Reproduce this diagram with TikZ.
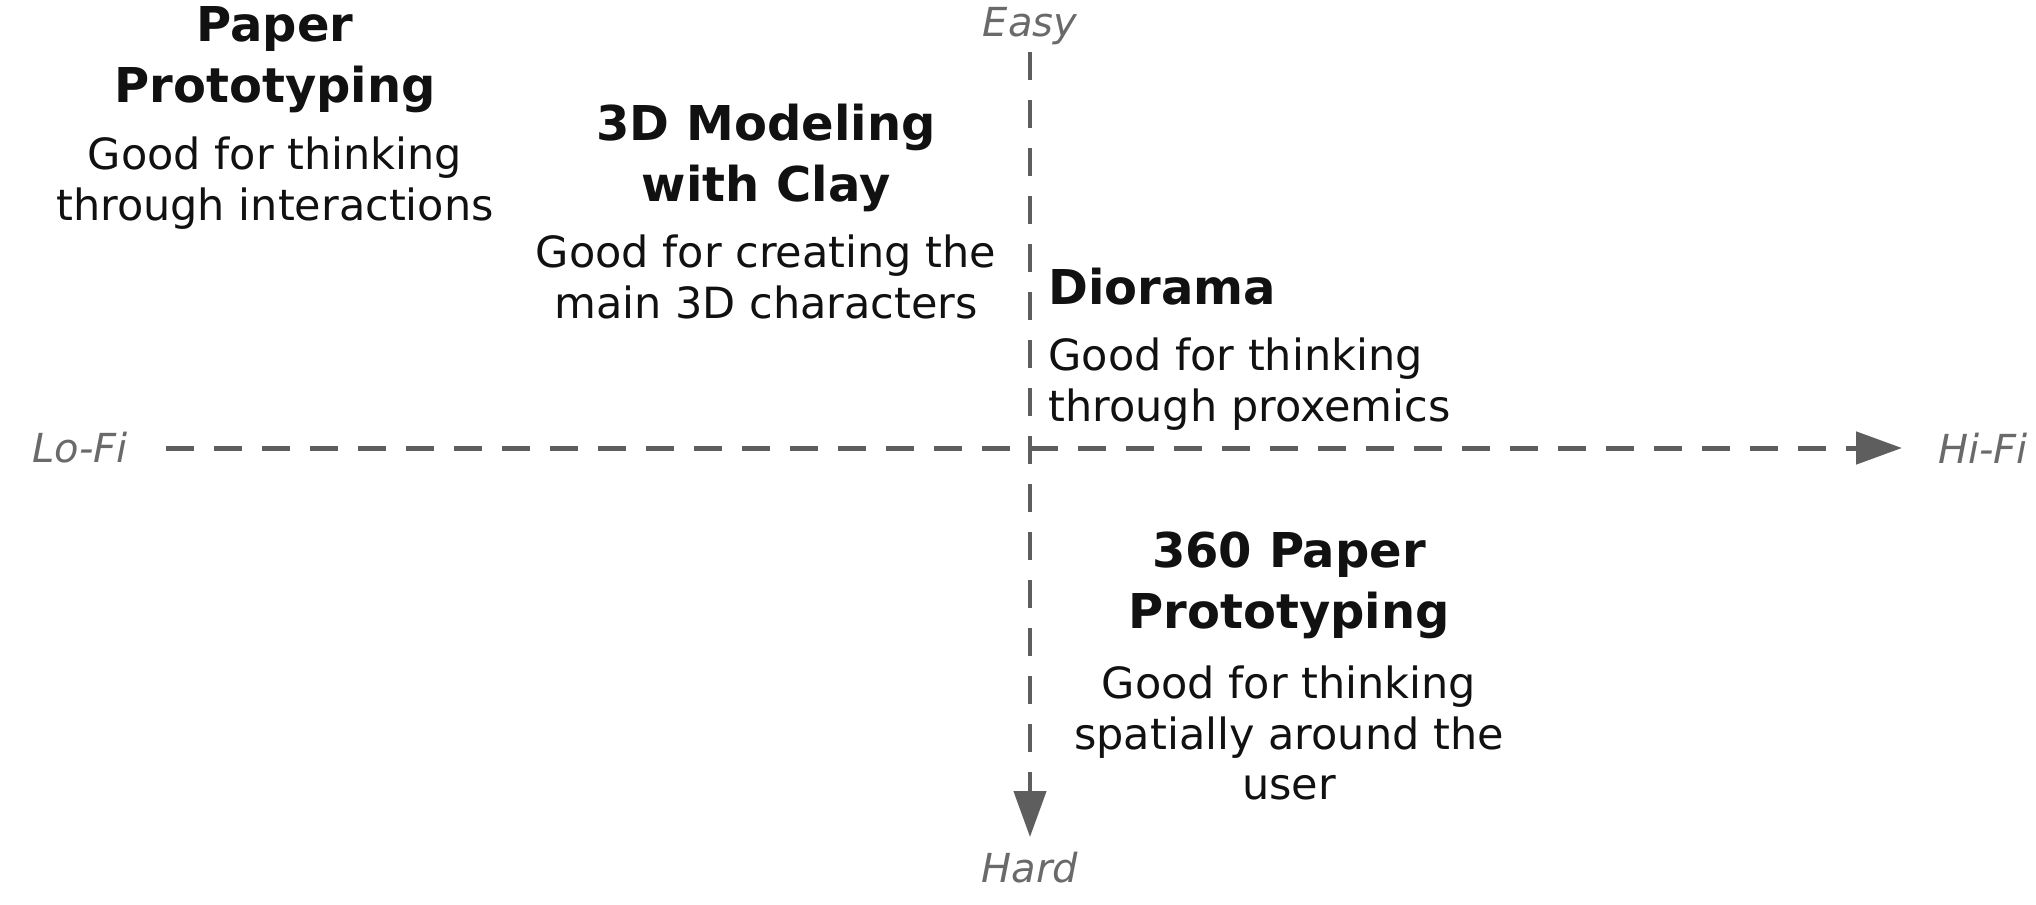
\documentclass[tikz,border=0pt]{standalone}
\usepackage{fontspec}
\setmainfont{DejaVu Sans}
\usetikzlibrary{arrows.meta}
\definecolor{axiscol}{HTML}{5E5E5E}
\definecolor{axlabcol}{HTML}{6A6A6A}
\definecolor{txtcol}{HTML}{111111}
\begin{document}
\begin{tikzpicture}[x=0.5pt,y=-0.5pt,
  titletext/.style={font=\bfseries\fontsize{24}{30.5}\selectfont, align=center, inner sep=0pt, text=txtcol},
  bodytext/.style={font=\fontsize{21.5}{25.3}\selectfont, align=center, inner sep=0pt, text=txtcol},
  axlabel/.style={font=\itshape\fontsize{20}{24}\selectfont, text=axlabcol, inner sep=0pt},
  axisline/.style={draw=axiscol, line width=2.5pt, dash pattern=on 14pt off 10pt,
    -{Triangle[length=23pt,width=16pt]}}]
\useasboundingbox (0,0) rectangle (2036,905);

% axis labels
\node[axlabel] (easy) at (1030,26) {Easy};
\node[axlabel] (hard) at (1030,868) {Hard};
\node[axlabel] (lofi) at (80,448) {Lo-Fi};
\node[axlabel] (hifi) at (1983,448) {Hi-Fi};

% axis end points
\coordinate (vs) at (1030,52);
\coordinate (ve) at (1030,837);
\coordinate (hs) at (166,448);
\coordinate (he) at (1902,448);

\draw[axisline] (hs) -- (he);
\draw[axisline, line width=2.2pt] (vs) -- (ve);

% Paper Prototyping
\node[titletext] (ppt) at (275,60) {Paper\\Prototyping};
\node[bodytext] (ppb) at (275,183) {Good for thinking\\through interactions};

% 3D Modeling with Clay
\node[titletext] (cmt) at (766,158) {3D Modeling\\with Clay};
\node[bodytext] (cmb) at (766,277) {Good for creating the\\main 3D characters};

% Diorama
\node[titletext, anchor=west] (dit) at (1048,287) {Diorama};
\node[bodytext, anchor=west, align=left] (dib) at (1048,384) {Good for thinking\\through proxemics};

% 360 Paper Prototyping
\node[titletext] (spt) at (1289,585) {360 Paper\\Prototyping};
\node[bodytext] (spb) at (1289,733) {Good for thinking\\spatially around the\\user};
\end{tikzpicture}
\end{document}
